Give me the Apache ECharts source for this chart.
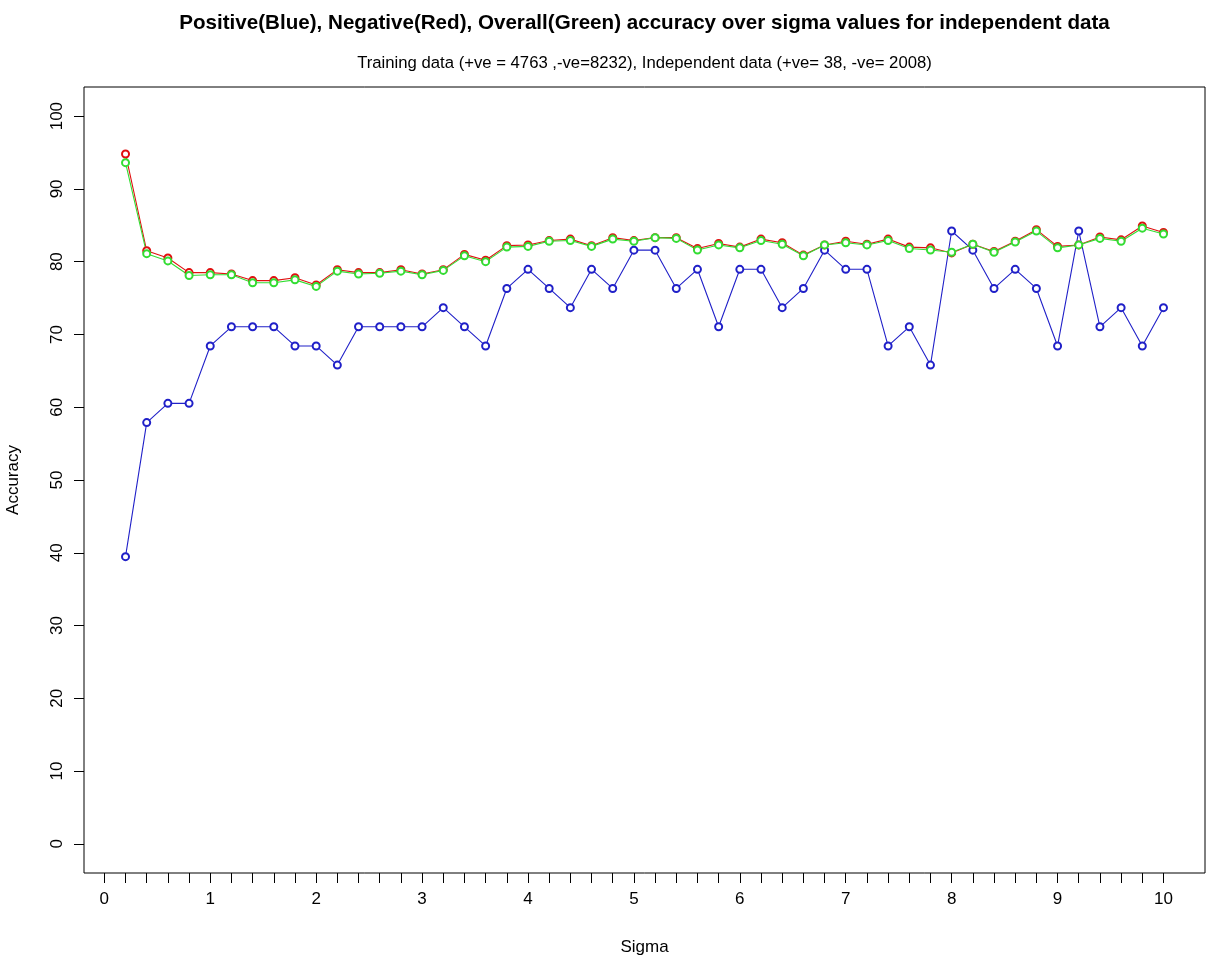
<!DOCTYPE html>
<html>
<head>
<meta charset="utf-8">
<title>Accuracy over sigma</title>
<script src="https://cdn.jsdelivr.net/npm/echarts@6/dist/echarts.min.js"></script>
<style>
  html, body { margin: 0; padding: 0; background: #fff; }
  #chart { width: 1210px; height: 957px; }
</style>
</head>
<body>
<div id="chart"></div>
<script>
// Sigma values tried by the classifier
const sigma = [0.2, 0.4, 0.6, 0.8, 1.0, 1.2, 1.4, 1.6, 1.8, 2.0,
               2.2, 2.4, 2.6, 2.8, 3.0, 3.2, 3.4, 3.6, 3.8, 4.0,
               4.2, 4.4, 4.6, 4.8, 5.0, 5.2, 5.4, 5.6, 5.8, 6.0,
               6.2, 6.4, 6.6, 6.8, 7.0, 7.2, 7.4, 7.6, 7.8, 8.0,
               8.2, 8.4, 8.6, 8.8, 9.0, 9.2, 9.4, 9.6, 9.8, 10.0];

// Positive accuracy (%) on the independent set (38 positives)
const positive = [39.47, 57.89, 60.53, 60.53, 68.42, 71.05, 71.05, 71.05, 68.42, 68.42,
                  65.79, 71.05, 71.05, 71.05, 71.05, 73.68, 71.05, 68.42, 76.32, 78.95,
                  76.32, 73.68, 78.95, 76.32, 81.58, 81.58, 76.32, 78.95, 71.05, 78.95,
                  78.95, 73.68, 76.32, 81.58, 78.95, 78.95, 68.42, 71.05, 65.79, 84.21,
                  81.58, 76.32, 78.95, 76.32, 68.42, 84.21, 71.05, 73.68, 68.42, 73.68];

// Negative accuracy (%) on the independent set (2008 negatives)
const negative = [94.8, 81.5, 80.5, 78.5, 78.5, 78.3, 77.4, 77.4, 77.8, 76.8,
                  78.9, 78.5, 78.5, 78.9, 78.3, 78.9, 81.0, 80.2, 82.2, 82.3,
                  82.9, 83.1, 82.2, 83.3, 82.9, 83.3, 83.3, 81.8, 82.5, 82.0,
                  83.1, 82.6, 80.9, 82.3, 82.8, 82.4, 83.1, 82.0, 81.9, 81.2,
                  82.4, 81.4, 82.8, 84.4, 82.1, 82.3, 83.4, 83.0, 84.9, 84.0];

// Overall accuracy (%) on the independent set
const overall = [93.6, 81.1, 80.1, 78.1, 78.2, 78.2, 77.1, 77.1, 77.5, 76.6,
                 78.7, 78.3, 78.4, 78.7, 78.2, 78.8, 80.8, 80.0, 82.0, 82.1,
                 82.8, 82.9, 82.1, 83.1, 82.8, 83.3, 83.2, 81.6, 82.3, 81.9,
                 82.9, 82.4, 80.8, 82.3, 82.6, 82.3, 82.9, 81.8, 81.6, 81.3,
                 82.4, 81.3, 82.7, 84.2, 81.9, 82.3, 83.2, 82.8, 84.6, 83.8];

// Axis ticks and labels
const xTickValues = [0, 0.2, 0.4, 0.6, 0.8, 1, 1.2, 1.4, 1.6, 1.8, 2, 2.2, 2.4, 2.6, 2.8,
                     3, 3.2, 3.4, 3.6, 3.8, 4, 4.2, 4.4, 4.6, 4.8, 5, 5.2, 5.4, 5.6, 5.8,
                     6, 6.2, 6.4, 6.6, 6.8, 7, 7.2, 7.4, 7.6, 7.8, 8, 8.2, 8.4, 8.6, 8.8,
                     9, 9.2, 9.4, 9.6, 9.8, 10];
const xLabelValues = [0, 1, 2, 3, 4, 5, 6, 7, 8, 9, 10];
const yLabelValues = [0, 10, 20, 30, 40, 50, 60, 70, 80, 90, 100];

const FONT = "'Liberation Sans', Arial, sans-serif";

const pairs = (ys) => sigma.map((s, i) => [s, ys[i]]);

function lineSeries(name, ys, color) {
  return {
    name: name,
    type: 'line',
    data: pairs(ys),
    symbol: 'emptyCircle',
    symbolSize: 7,
    showAllSymbol: true,
    lineStyle: { color: color, width: 1.1 },
    itemStyle: { color: color, borderColor: color, borderWidth: 1.1 },
    emphasis: { disabled: true },
    animation: false
  };
}

const chart = echarts.init(document.getElementById('chart'), null, { renderer: 'canvas' });

chart.setOption({
  backgroundColor: '#ffffff',
  animation: false,
  title: [
    {
      text: 'Positive(Blue), Negative(Red), Overall(Green) accuracy over sigma values for independent data',
      left: 639.5, top: 8, textAlign: 'center',
      textStyle: { fontFamily: FONT, fontSize: 20.6, fontWeight: 'bold', color: '#000' }
    },
    {
      text: 'Training data (+ve = 4763 ,-ve=8232), Independent data (+ve= 38, -ve= 2008)',
      left: 639.5, top: 50, textAlign: 'center',
      textStyle: { fontFamily: FONT, fontSize: 16.7, fontWeight: 'normal', color: '#000' }
    }
  ],
  grid: {
    left: 84, right: 5, top: 87, bottom: 84,
    outerBoundsMode: 'none',
    containLabel: false,
    show: true, borderColor: '#000', borderWidth: 1, backgroundColor: 'transparent'
  },
  xAxis: {
    type: 'value',
    min: -0.192, max: 10.392,
    name: 'Sigma', nameLocation: 'middle', nameGap: 66,
    nameTextStyle: { fontFamily: FONT, fontSize: 17, color: '#000' },
    axisLine: { show: false, onZero: false },
    splitLine: { show: false },
    axisTick: { show: true, customValues: xTickValues, length: 10, lineStyle: { color: '#000', width: 1 } },
    axisLabel: { customValues: xLabelValues, margin: 18, fontFamily: FONT, fontSize: 17, color: '#000' }
  },
  yAxis: {
    type: 'value',
    min: -4, max: 104,
    name: 'Accuracy', nameLocation: 'middle', nameGap: 62, nameRotate: 90,
    nameTextStyle: { fontFamily: FONT, fontSize: 17, color: '#000' },
    axisLine: { show: false, onZero: false },
    splitLine: { show: false },
    axisTick: { show: true, customValues: yLabelValues, length: 10, lineStyle: { color: '#000', width: 1 } },
    axisLabel: { customValues: yLabelValues, rotate: 90, margin: 18, fontFamily: FONT, fontSize: 17, color: '#000' }
  },
  series: [
    lineSeries('Positive', positive, '#2020c8'),
    lineSeries('Negative', negative, '#e01010'),
    lineSeries('Overall', overall, '#33dd33')
  ]
});
</script>
</body>
</html>
